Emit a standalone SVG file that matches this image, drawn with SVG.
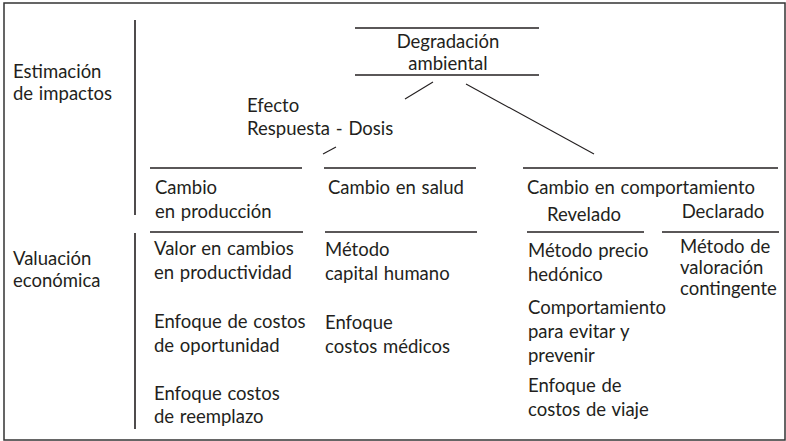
<svg xmlns="http://www.w3.org/2000/svg" width="786" height="441" viewBox="0 0 786 441">
<style>
text{font-family:"Lato","Open Sans","DejaVu Sans",sans-serif;font-size:18.5px;word-spacing:1px;fill:#231f20}
.ln{stroke:#231f20;stroke-width:1.6;fill:none}
.thin{stroke:#231f20;stroke-width:1.1;fill:none}
</style>
<rect x="4" y="3" width="781" height="437" fill="#fff" stroke="#333" stroke-width="1.5"/>
<g id="sections">
<line class="ln" x1="135" y1="20" x2="135" y2="215"/>
<line class="ln" x1="135" y1="233" x2="135" y2="429"/>
<text x="13" y="78">Estimación</text>
<text x="13" y="100">de impactos</text>
<text x="13" y="265">Valuación</text>
<text x="13" y="287">económica</text>
</g>
<g id="degradacion">
<line class="ln" x1="355" y1="28" x2="539" y2="28"/>
<line class="ln" x1="355" y1="75" x2="539" y2="75"/>
<text x="448" y="48" text-anchor="middle">Degradación</text>
<text x="448" y="70" text-anchor="middle">ambiental</text>
</g>
<g id="efecto">
<text x="247" y="112">Efecto</text>
<text x="247" y="135">Respuesta - Dosis</text>
</g>
<g id="produccion">
<line class="ln" x1="150" y1="168" x2="302" y2="168"/>
<text x="155" y="194">Cambio</text>
<text x="155" y="218">en producción</text>
<line class="ln" x1="150" y1="232" x2="303" y2="232"/>
<text x="154" y="255">Valor en cambios</text>
<text x="154" y="279">en productividad</text>
<text x="154" y="328">Enfoque de costos</text>
<text x="154" y="352">de oportunidad</text>
<text x="154" y="400">Enfoque costos</text>
<text x="154" y="423">de reemplazo</text>
</g>
<g id="salud">
<line class="ln" x1="324" y1="168" x2="476" y2="168"/>
<text x="328" y="194">Cambio en salud</text>
<line class="ln" x1="325" y1="232" x2="477" y2="232"/>
<text x="325" y="256">Método</text>
<text x="325" y="280">capital humano</text>
<text x="325" y="329">Enfoque</text>
<text x="325" y="353">costos médicos</text>
</g>
<g id="comportamiento">
<line class="ln" x1="523" y1="168" x2="778" y2="168"/>
<text x="527" y="194">Cambio en comportamiento</text>
<text x="584" y="221" text-anchor="middle">Revelado</text>
<text x="723" y="218" text-anchor="middle">Declarado</text>
<line class="ln" x1="527" y1="232" x2="644" y2="232"/>
<line class="ln" x1="662" y1="232" x2="779" y2="232"/>
<text x="528" y="257">Método precio</text>
<text x="528" y="281">hedónico</text>
<text x="528" y="314">Comportamiento</text>
<text x="528" y="338">para evitar y</text>
<text x="528" y="362">prevenir</text>
<text x="528" y="392">Enfoque de</text>
<text x="528" y="416">costos de viaje</text>
<text x="680" y="253">Método de</text>
<text x="680" y="274">valoración</text>
<text x="680" y="295">contingente</text>
</g>
<g id="connectors">
<line class="thin" x1="433" y1="82" x2="405" y2="99"/>
<line class="thin" x1="323" y1="154" x2="336" y2="147"/>
<line class="thin" x1="466" y1="84" x2="594" y2="154"/>
</g>
</svg>
